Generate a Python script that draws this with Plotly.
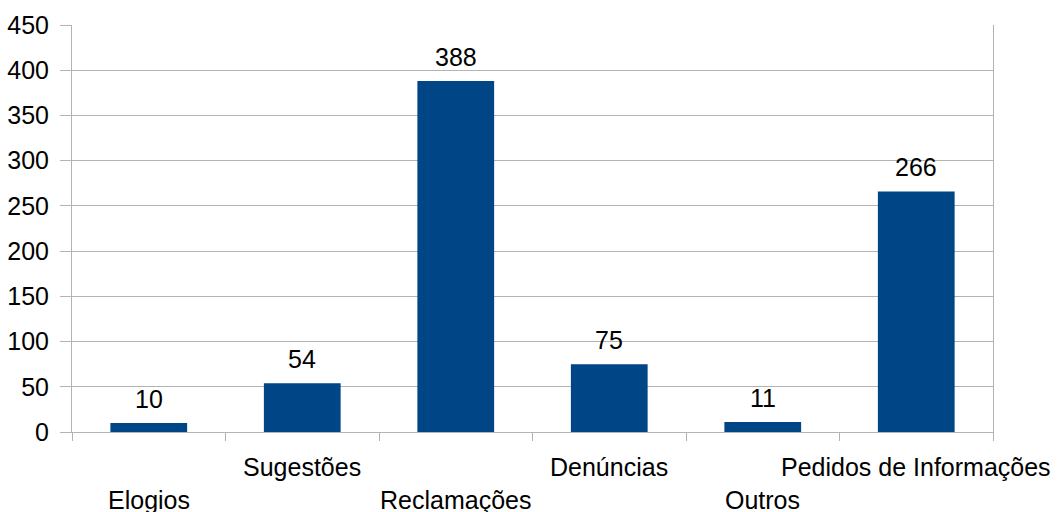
import plotly.graph_objects as go

categories = ["Elogios", "Sugestões", "Reclamações", "Denúncias", "Outros", "Pedidos de Informações"]
values = [10, 54, 388, 75, 11, 266]
y_ticks = [0, 50, 100, 150, 200, 250, 300, 350, 400, 450]

grid = "#b3b3b3"
font_size = 25

fig = go.Figure(
    go.Bar(
        x=categories,
        y=values,
        marker=dict(color="#004586", line=dict(width=0)),
        width=0.5,
        cliponaxis=False,
    )
)

# Value labels sitting above each bar
for name, v in zip(categories, values):
    fig.add_annotation(
        x=name,
        y=v,
        xref="x",
        yref="y",
        yanchor="bottom",
        xanchor="center",
        yshift=8,
        text=str(v),
        showarrow=False,
        font=dict(size=font_size, color="black"),
    )

# Category names on two staggered rows below the axis
for i, name in enumerate(categories):
    fig.add_annotation(
        x=name,
        xref="x",
        yref="paper",
        y=-0.167 if i % 2 == 0 else -0.086,
        yanchor="middle",
        xanchor="center",
        text=name,
        showarrow=False,
        font=dict(size=font_size, color="black"),
    )

fig.update_layout(
    width=1058,
    height=512,
    margin=dict(l=72, r=65, t=25, b=80),
    paper_bgcolor="white",
    plot_bgcolor="white",
    font=dict(family="Liberation Sans, Arial, sans-serif", size=font_size, color="black"),
    showlegend=False,
)

fig.update_xaxes(
    type="category",
    categoryorder="array",
    categoryarray=categories,
    showticklabels=False,
    tickson="boundaries",
    ticks="outside",
    ticklen=8,
    tickcolor=grid,
    showgrid=False,
    showline=True,
    linecolor=grid,
    linewidth=1,
    range=[-0.5, 5.5],
    automargin=False,
)

fig.update_yaxes(
    range=[0, 450],
    tickvals=y_ticks,
    ticks="outside",
    ticklen=11,
    tickcolor=grid,
    showgrid=True,
    gridcolor=grid,
    gridwidth=1,
    showline=True,
    linecolor=grid,
    mirror=True,
    zeroline=False,
    tickfont=dict(size=font_size),
    ticklabelstandoff=6,
    automargin=False,
)

fig.write_html("out.html")
